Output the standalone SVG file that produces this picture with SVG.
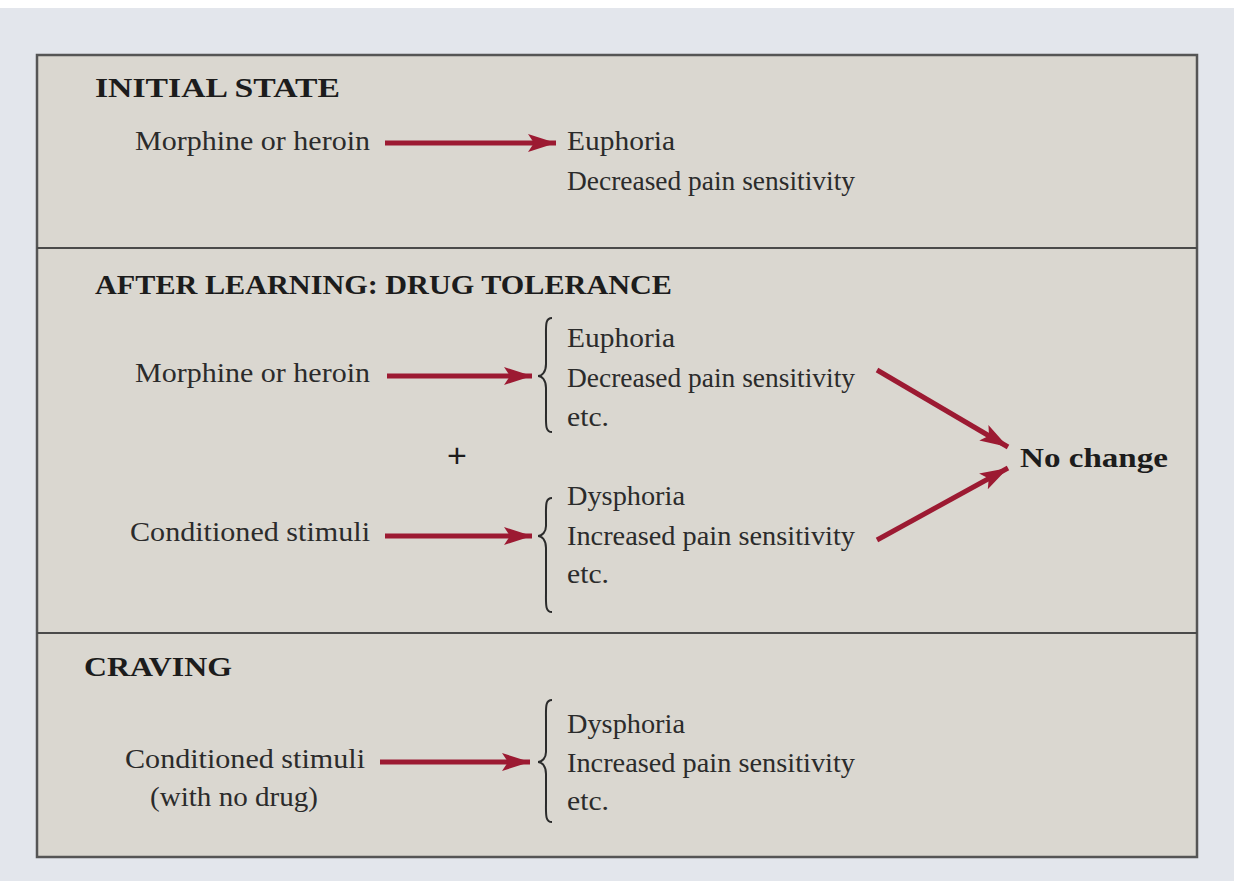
<svg xmlns="http://www.w3.org/2000/svg" width="1234" height="881" viewBox="0 0 1234 881">
<style>
.body{font-family:"Liberation Serif","Times New Roman",serif;font-size:28px;fill:#2b2b2b}
.head{font-family:"Liberation Serif","Times New Roman",serif;font-size:27px;font-weight:bold;fill:#1c1c1c}
.bold{font-family:"Liberation Serif","Times New Roman",serif;font-size:28px;font-weight:bold;fill:#1c1c1c}
.plus{font-family:"Liberation Sans","Arial",sans-serif;font-size:34px;fill:#1c1c1c}
.arr{stroke:#9c1a32;stroke-width:5;fill:none}
.brace{stroke:#2b2b2b;stroke-width:2;fill:none}
.rule{stroke:#4a4a4a;stroke-width:2}
</style>
<defs>
<marker id="ah" markerUnits="userSpaceOnUse" markerWidth="30" markerHeight="20" refX="28" refY="10" orient="auto">
<path d="M0,1 L28,10 L0,19 L6,10 Z" fill="#9c1a32"/>
</marker>
</defs>
<rect x="0" y="0" width="1234" height="881" fill="#e3e6ec"/>
<rect x="0" y="0" width="1234" height="8" fill="#ffffff"/>
<g id="panel">
<rect x="37" y="55" width="1160" height="802" fill="#dad7d0" stroke="#555" stroke-width="2.5"/>
<line class="rule" x1="37" y1="248" x2="1197" y2="248"/>
<line class="rule" x1="37" y1="633" x2="1197" y2="633"/>
</g>
<g id="sec-initial">
<text class="head" x="95" y="97" textLength="245" lengthAdjust="spacingAndGlyphs">INITIAL STATE</text>
<g id="n-morphine1"><text class="body" x="135" y="150" textLength="235" lengthAdjust="spacingAndGlyphs">Morphine or heroin</text></g>
<g id="n-effects1">
<text class="body" x="567" y="150" textLength="108" lengthAdjust="spacingAndGlyphs">Euphoria</text>
<text class="body" x="567" y="190" textLength="288" lengthAdjust="spacingAndGlyphs">Decreased pain sensitivity</text>
</g>
</g>
<g id="sec-tolerance">
<text class="head" x="95" y="294" textLength="577" lengthAdjust="spacingAndGlyphs">AFTER LEARNING: DRUG TOLERANCE</text>
<g id="n-morphine2"><text class="body" x="135" y="382" textLength="235" lengthAdjust="spacingAndGlyphs">Morphine or heroin</text></g>
<g id="n-effects2">
<path class="brace" d="M552,318 C545,318 546,326 546,338 L546,364 C546,372 542,376 538,376 C542,376 546,380 546,388 L546,412 C546,424 545,432 552,432"/>
<text class="body" x="567" y="347" textLength="108" lengthAdjust="spacingAndGlyphs">Euphoria</text>
<text class="body" x="567" y="387" textLength="288" lengthAdjust="spacingAndGlyphs">Decreased pain sensitivity</text>
<text class="body" x="567" y="426" textLength="42" lengthAdjust="spacingAndGlyphs">etc.</text>
</g>
<g id="n-plus"><text class="plus" x="457" y="467" text-anchor="middle">+</text></g>
<g id="n-cs1"><text class="body" x="130" y="541" textLength="240" lengthAdjust="spacingAndGlyphs">Conditioned stimuli</text></g>
<g id="n-effects3">
<path class="brace" d="M552,498 C545,498 546,506 546,518 L546,526 C546,532 542,536 538,536 C542,536 546,540 546,548 L546,592 C546,604 545,612 552,612"/>
<text class="body" x="567" y="505" textLength="118" lengthAdjust="spacingAndGlyphs">Dysphoria</text>
<text class="body" x="567" y="545" textLength="288" lengthAdjust="spacingAndGlyphs">Increased pain sensitivity</text>
<text class="body" x="567" y="583" textLength="42" lengthAdjust="spacingAndGlyphs">etc.</text>
</g>
<g id="n-nochange"><text class="bold" x="1020" y="467" textLength="148" lengthAdjust="spacingAndGlyphs">No change</text></g>
</g>
<g id="sec-craving">
<text class="head" x="84" y="676" textLength="148" lengthAdjust="spacingAndGlyphs">CRAVING</text>
<g id="n-cs2">
<text class="body" x="125" y="768" textLength="240" lengthAdjust="spacingAndGlyphs">Conditioned stimuli</text>
<text class="body" x="150" y="806" textLength="168" lengthAdjust="spacingAndGlyphs">(with no drug)</text>
</g>
<g id="n-effects4">
<path class="brace" d="M552,700 C545,700 546,708 546,720 L546,752 C546,758 542,762 538,762 C542,762 546,766 546,774 L546,802 C546,814 545,822 552,822"/>
<text class="body" x="567" y="733" textLength="118" lengthAdjust="spacingAndGlyphs">Dysphoria</text>
<text class="body" x="567" y="772" textLength="288" lengthAdjust="spacingAndGlyphs">Increased pain sensitivity</text>
<text class="body" x="567" y="810" textLength="42" lengthAdjust="spacingAndGlyphs">etc.</text>
</g>
</g>
<g id="connectors">
<line class="arr" x1="385" y1="143" x2="556" y2="143" marker-end="url(#ah)"/>
<line class="arr" x1="387" y1="376" x2="532" y2="376" marker-end="url(#ah)"/>
<line class="arr" x1="385" y1="536" x2="532" y2="536" marker-end="url(#ah)"/>
<line class="arr" x1="380" y1="762" x2="530" y2="762" marker-end="url(#ah)"/>
<line class="arr" x1="877" y1="370" x2="1008" y2="447" marker-end="url(#ah)"/>
<line class="arr" x1="877" y1="540" x2="1008" y2="468" marker-end="url(#ah)"/>
</g>
</svg>
